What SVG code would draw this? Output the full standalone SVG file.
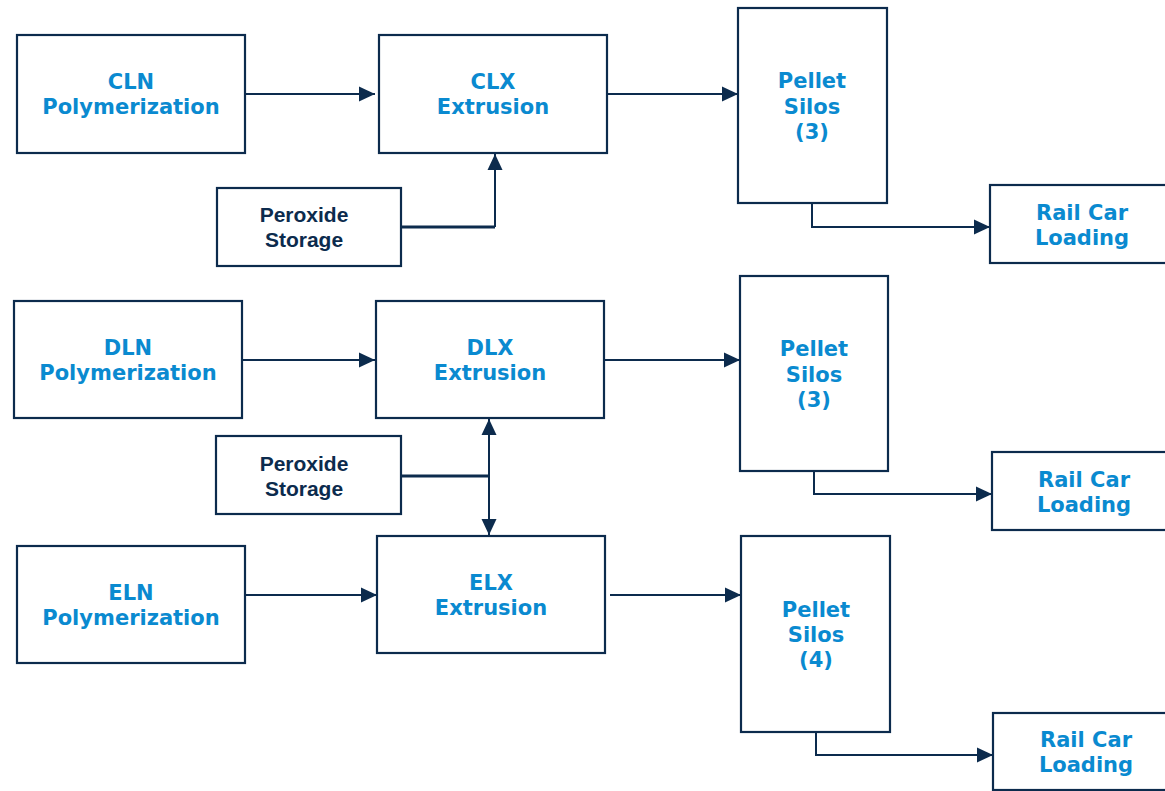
<svg xmlns="http://www.w3.org/2000/svg" width="1165" height="791" viewBox="0 0 1165 791">
<style>
.box{fill:#fff;stroke:#0c2b4d;stroke-width:2.2}
.t{font-family:"DejaVu Sans",Verdana,sans-serif;font-weight:bold;font-size:21px;fill:#0a8ad0;text-anchor:middle}
.p{font-family:"Liberation Sans",Arial,sans-serif;font-weight:bold;font-size:21px;fill:#0c2b4d;text-anchor:middle}
.c{fill:none;stroke:#0c2b4d;stroke-width:2;marker-end:url(#ah)}
.c3{fill:none;stroke:#0c2b4d;stroke-width:3}
</style>
<defs>
<marker id="ah" markerUnits="userSpaceOnUse" markerWidth="16" markerHeight="16" refX="16" refY="7.5" orient="auto-start-reverse" viewBox="0 0 16 15">
<path d="M0,0 L16,7.5 L0,15 z" fill="#0c2b4d"/>
</marker>
</defs>
<rect width="1165" height="791" fill="#fff"/>
<g id="connectors">
<path class="c" d="M245,94 H375"/>
<path class="c" d="M607,94 H738"/>
<path class="c3" d="M401,227 H495"/>
<path class="c" d="M495,227 V154"/>
<path class="c" d="M812,203 V227 H990"/>
<path class="c" d="M242,360 H375"/>
<path class="c" d="M604,360 H740"/>
<path class="c3" d="M401,476 H489"/>
<path class="c" d="M489,419 V535" style="marker-start:url(#ah)"/>
<path class="c" d="M814,471 V494 H992"/>
<path class="c" d="M245,595 H377"/>
<path class="c" d="M610,595 H741"/>
<path class="c" d="M816,732 V755 H993"/>
</g>
<g id="cln"><rect class="box" x="17" y="35" width="228" height="118"/><text class="t" x="131" y="89">CLN</text><text class="t" x="131" y="114">Polymerization</text></g>
<g id="clx"><rect class="box" x="379" y="35" width="228" height="118"/><text class="t" x="493" y="89">CLX</text><text class="t" x="493" y="114">Extrusion</text></g>
<g id="silo1"><rect class="box" x="738" y="8" width="149" height="195"/><text class="t" x="812" y="88">Pellet</text><text class="t" x="812" y="114">Silos</text><text class="t" x="812" y="139">(3)</text></g>
<g id="rail1"><rect class="box" x="990" y="185" width="185" height="78"/><text class="t" x="1082" y="220">Rail Car</text><text class="t" x="1082" y="245">Loading</text></g>
<g id="perox1"><rect class="box" x="217" y="188" width="184" height="78"/><text class="p" x="304" y="222">Peroxide</text><text class="p" x="304" y="247">Storage</text></g>
<g id="dln"><rect class="box" x="14" y="301" width="228" height="117"/><text class="t" x="128" y="355">DLN</text><text class="t" x="128" y="380">Polymerization</text></g>
<g id="dlx"><rect class="box" x="376" y="301" width="228" height="117"/><text class="t" x="490" y="355">DLX</text><text class="t" x="490" y="380">Extrusion</text></g>
<g id="silo2"><rect class="box" x="740" y="276" width="148" height="195"/><text class="t" x="814" y="356">Pellet</text><text class="t" x="814" y="382">Silos</text><text class="t" x="814" y="407">(3)</text></g>
<g id="rail2"><rect class="box" x="992" y="452" width="185" height="78"/><text class="t" x="1084" y="487">Rail Car</text><text class="t" x="1084" y="512">Loading</text></g>
<g id="perox2"><rect class="box" x="216" y="436" width="185" height="78"/><text class="p" x="304" y="471">Peroxide</text><text class="p" x="304" y="496">Storage</text></g>
<g id="eln"><rect class="box" x="17" y="546" width="228" height="117"/><text class="t" x="131" y="600">ELN</text><text class="t" x="131" y="625">Polymerization</text></g>
<g id="elx"><rect class="box" x="377" y="536" width="228" height="117"/><text class="t" x="491" y="590">ELX</text><text class="t" x="491" y="615">Extrusion</text></g>
<g id="silo3"><rect class="box" x="741" y="536" width="149" height="196"/><text class="t" x="816" y="617">Pellet</text><text class="t" x="816" y="642">Silos</text><text class="t" x="816" y="667">(4)</text></g>
<g id="rail3"><rect class="box" x="993" y="713" width="185" height="77"/><text class="t" x="1086" y="747">Rail Car</text><text class="t" x="1086" y="772">Loading</text></g>
</svg>
